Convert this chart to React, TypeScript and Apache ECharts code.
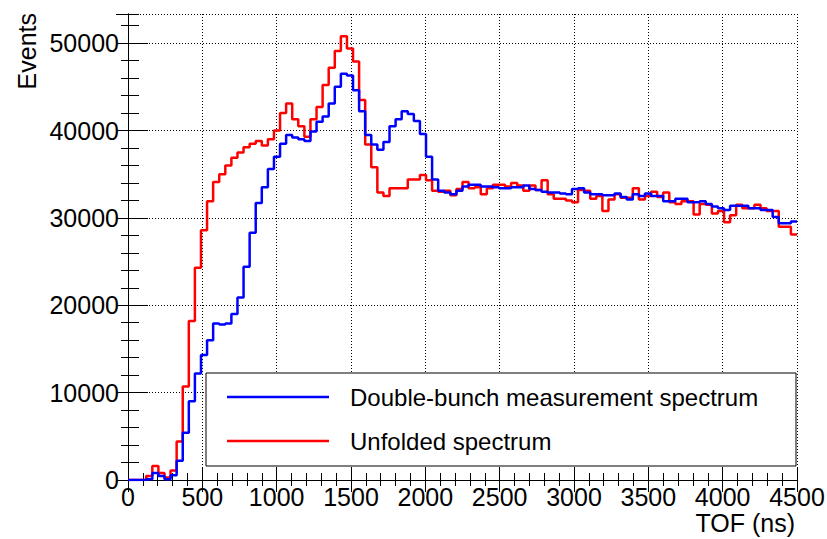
import React, { useEffect, useRef } from "react";
import * as echarts from "echarts";

// Time-of-flight histogram: 110 bins across 0–4500 ns
const X_MIN = 0;
const X_MAX = 4500;
const BIN_COUNT = 110;
const BIN_WIDTH = (X_MAX - X_MIN) / BIN_COUNT;

const Y_MAX = 53340;
const X_TICK_STEP = 500;
const Y_TICK_STEP = 10000;

const seriesNames = ["Double-bunch measurement spectrum", "Unfolded spectrum"];
const seriesColors = ["#0000ff", "#ff0000"];

// Events per bin, measured double-bunch spectrum
const doubleBunch = [
  0, 0, 0, 100, 800, 450, 100, 550, 2200, 5400,
  9000, 12200, 14300, 16000, 17900, 17800, 17900, 19000, 20900, 24400,
  28300, 31700, 33500, 35600, 37000, 38500, 39500, 39200, 39000, 38800,
  39900, 41000, 41600, 43100, 45000, 46500, 46300, 44600, 42200, 39500,
  38400, 37800, 38700, 40500, 41300, 42200, 41900, 41100, 39600, 37000,
  34400, 33100, 32900, 32700, 33100, 33600, 33800, 33800, 33600, 33600,
  33500, 33400, 33400, 33500, 33500, 33700, 33300, 33200, 33000, 32900,
  32900, 32800, 32700, 33300, 33400, 32900, 32700, 32700, 32600, 32600,
  32800, 32400, 32100, 32700, 32500, 32800, 32500, 32500, 31900, 31900,
  32200, 32200, 31800, 31800, 31900, 31600, 31300, 31100, 30900, 31400,
  31400, 31400, 31100, 31100, 30900, 30900, 30100, 29400, 29400, 29600,
];

// Events per bin, unfolded spectrum
const unfolded = [
  0, 0, 0, 450, 1600, 800, 300, 1100, 4400, 10700,
  18200, 24300, 28600, 31900, 34100, 35000, 36000, 36900, 37500, 38100,
  38500, 38800, 38300, 39000, 40000, 42000, 43100, 41300, 40500, 39300,
  41300, 42700, 45200, 47200, 49100, 50800, 49400, 47900, 43500, 38400,
  35800, 32900, 32500, 33400, 33400, 33400, 34400, 34400, 34900, 34300,
  33100, 33000, 33100, 32600, 33300, 34100, 33400, 33500, 32700, 33400,
  33800, 33800, 33600, 34000, 33700, 33100, 33700, 33200, 34300, 32700,
  32200, 32200, 32000, 31800, 33200, 33100, 32200, 32500, 30800, 32100,
  32700, 32300, 32300, 33400, 32100, 32500, 33000, 32400, 32900, 31800,
  31600, 31900, 31900, 30400, 31600, 31500, 30500, 30800, 29500, 30300,
  31500, 31100, 31100, 31500, 31100, 30800, 30800, 29000, 29000, 28100,
];

const FONT = "'Liberation Sans', Arial, Helvetica, sans-serif";

// Bin contents -> points at the left bin edges, closed at the right edge
function toSteps(values: number[]): number[][] {
  const pts = values.map((v, i) => [X_MIN + i * BIN_WIDTH, v]);
  pts.push([X_MAX, values[values.length - 1]]);
  return pts;
}

function xAxisDef(position: "bottom" | "top", interval: number, tickLen: number, labels: boolean, grid: boolean, line: boolean) {
  return {
    type: "value",
    position,
    min: X_MIN,
    max: X_MAX,
    interval,
    axisLine: { show: line, lineStyle: { color: "#000", width: 1 } },
    axisTick: { show: true, inside: true, length: tickLen, lineStyle: { color: "#000", width: 1 } },
    axisLabel: {
      show: labels,
      color: "#000",
      fontSize: 25,
      fontFamily: FONT,
      margin: 4,
      formatter: (v: number) => String(v),
    },
    splitLine: { show: grid, lineStyle: { color: "#000", width: 1, type: [1, 2] } },
  };
}

function yAxisDef(position: "left" | "right", interval: number, tickLen: number, labels: boolean, grid: boolean, line: boolean) {
  return {
    type: "value",
    position,
    min: 0,
    max: Y_MAX,
    interval,
    axisLine: { show: line, lineStyle: { color: "#000", width: 1 } },
    axisTick: { show: true, inside: true, length: tickLen, lineStyle: { color: "#000", width: 1 } },
    axisLabel: {
      show: labels,
      color: "#000",
      fontSize: 25,
      fontFamily: FONT,
      margin: 9,
      showMaxLabel: false,
      formatter: (v: number) => (v % Y_TICK_STEP === 0 ? String(v) : ""),
    },
    splitLine: { show: grid, lineStyle: { color: "#000", width: 1, type: [1, 2] } },
  };
}

export default function App() {
  const ref = useRef<HTMLDivElement>(null);

  useEffect(() => {
    if (!ref.current) return;
    const chart = echarts.init(ref.current, null, { renderer: "svg" });

    const legendLeft = 206;
    const legendTop = 373;
    const legendRows = [397, 441];

    chart.setOption({
      animation: false,
      backgroundColor: "#fff",
      grid: { left: 128, right: 30, top: 14, bottom: 59, outerBoundsMode: "none", containLabel: false },
      xAxis: [
        xAxisDef("bottom", X_TICK_STEP, 13, true, true, true),
        xAxisDef("bottom", X_TICK_STEP / 5, 7, false, false, false),
        xAxisDef("top", X_TICK_STEP, 12, false, false, true),
        xAxisDef("top", X_TICK_STEP / 5, 6, false, false, false),
      ],
      yAxis: [
        yAxisDef("left", Y_TICK_STEP, 20, true, true, true),
        yAxisDef("left", Y_TICK_STEP / 5, 11, false, false, false),
        yAxisDef("right", Y_TICK_STEP, 12, false, false, true),
        yAxisDef("right", Y_TICK_STEP / 5, 7, false, false, false),
      ],
      series: [
        {
          name: seriesNames[1],
          type: "line",
          step: "end",
          data: toSteps(unfolded),
          showSymbol: false,
          symbol: "none",
          lineStyle: { color: seriesColors[1], width: 2.5 },
          z: 3,
        },
        {
          name: seriesNames[0],
          type: "line",
          step: "end",
          data: toSteps(doubleBunch),
          showSymbol: false,
          symbol: "none",
          lineStyle: { color: seriesColors[0], width: 2.5 },
          z: 4,
        },
      ],
      graphic: [
        {
          type: "rect",
          z: 100,
          shape: { x: legendLeft, y: legendTop, width: 796 - legendLeft, height: 93 },
          style: { fill: "#fff", stroke: "#000", lineWidth: 1 },
        },
        ...seriesNames.flatMap((name, i) => [
          {
            type: "line",
            z: 101,
            shape: { x1: 227, y1: legendRows[i], x2: 329, y2: legendRows[i] },
            style: { stroke: seriesColors[i], lineWidth: 2.5 },
          },
          {
            type: "text",
            z: 101,
            x: 350,
            y: legendRows[i],
            style: {
              text: name,
              fill: "#000",
              font: `24px ${FONT}`,
              align: "left",
              verticalAlign: "middle",
              textAlign: "left",
              textVerticalAlign: "middle",
            },
          },
        ]),
        {
          type: "text",
          z: 101,
          x: 795,
          y: 523,
          style: {
            text: "TOF (ns)",
            fill: "#000",
            font: `25px ${FONT}`,
            align: "right",
            verticalAlign: "middle",
            textAlign: "right",
            textVerticalAlign: "middle",
          },
        },
        {
          type: "text",
          z: 101,
          x: 27,
          y: 13,
          rotation: Math.PI / 2,
          style: {
            text: "Events",
            fill: "#000",
            font: `25px ${FONT}`,
            align: "right",
            verticalAlign: "middle",
            textAlign: "right",
            textVerticalAlign: "middle",
          },
        },
      ],
    });

    return () => chart.dispose();
  }, []);

  return (
    <div
      ref={ref}
      style={{ position: "absolute", left: 0, top: 0, width: 827, height: 539, background: "#fff" }}
    />
  );
}
